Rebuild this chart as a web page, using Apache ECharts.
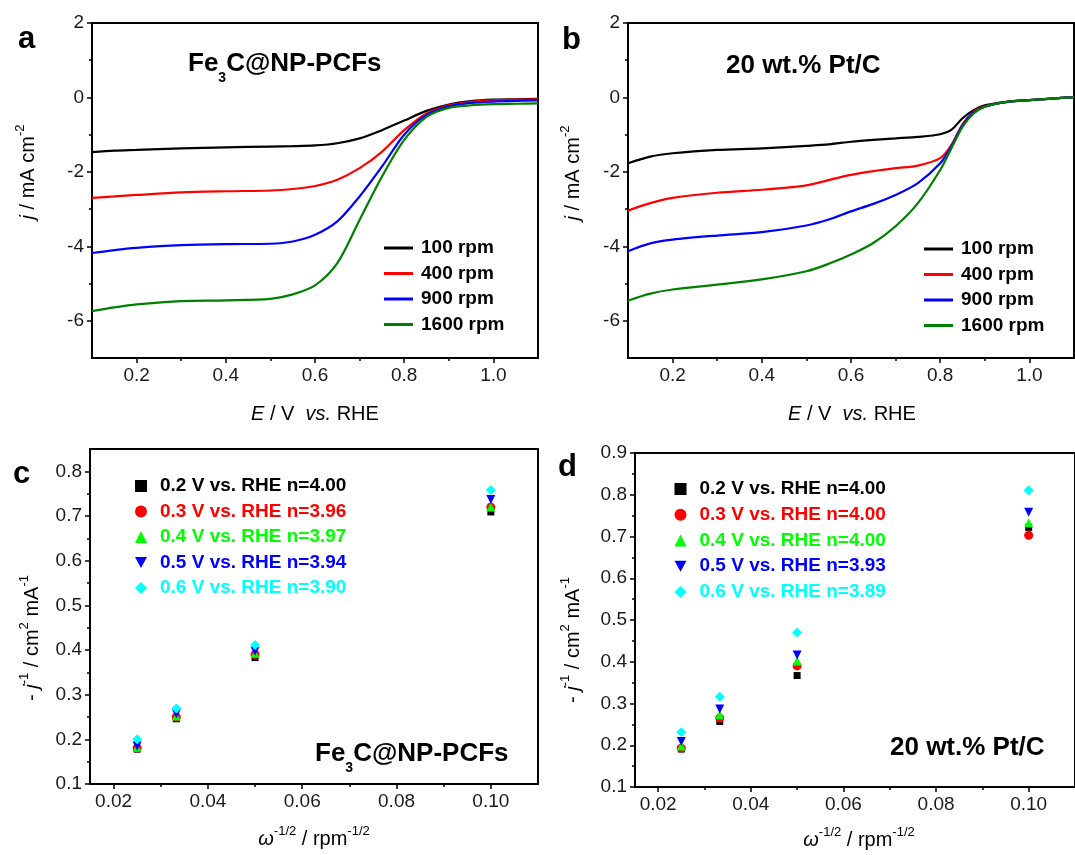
<!DOCTYPE html>
<html>
<head>
<meta charset="utf-8">
<script src="https://cdn.jsdelivr.net/npm/echarts@6/dist/echarts.min.js"></script>
<style>
  html, body { margin: 0; background: #fff; }
  #main { width: 1075px; height: 855px; }
</style>
</head>
<body>
<div id="main"></div>
<script>
const FONT = '"Liberation Sans", Arial, sans-serif';

// a: Fe3C@NP-PCFs, LSV at 4 rotation rates
const potentialA = [0.1, 0.15, 0.2, 0.3, 0.4, 0.5, 0.55, 0.6, 0.65, 0.7, 0.75, 0.8, 0.85, 0.9, 0.95, 1.0, 1.05, 1.1];
const fe100 = [-1.47, -1.43, -1.41, -1.37, -1.34, -1.32, -1.31, -1.29, -1.23, -1.10, -0.88, -0.62, -0.36, -0.19, -0.10, -0.06, -0.05, -0.04];
const fe400 = [-2.70, -2.66, -2.62, -2.55, -2.52, -2.50, -2.46, -2.38, -2.21, -1.90, -1.46, -0.88, -0.43, -0.21, -0.12, -0.08, -0.06, -0.05];
const fe900 = [-4.18, -4.10, -4.04, -3.97, -3.94, -3.93, -3.87, -3.69, -3.33, -2.66, -1.86, -1.00, -0.47, -0.24, -0.15, -0.11, -0.09, -0.08];
const fe1600 = [-5.74, -5.64, -5.56, -5.47, -5.45, -5.41, -5.29, -5.05, -4.45, -3.29, -2.13, -1.14, -0.52, -0.28, -0.21, -0.18, -0.17, -0.16];

// b: 20 wt.% Pt/C
const potentialB = [0.1, 0.15, 0.2, 0.3, 0.4, 0.5, 0.55, 0.6, 0.65, 0.7, 0.75, 0.8, 0.825, 0.85, 0.875, 0.9, 0.95, 1.0, 1.05, 1.1];
const pt100 = [-1.77, -1.59, -1.50, -1.41, -1.37, -1.30, -1.26, -1.19, -1.14, -1.10, -1.06, -0.99, -0.87, -0.56, -0.34, -0.21, -0.12, -0.07, -0.03, 0.01];
const pt400 = [-3.04, -2.84, -2.70, -2.56, -2.48, -2.36, -2.22, -2.08, -1.98, -1.90, -1.83, -1.63, -1.28, -0.72, -0.39, -0.24, -0.12, -0.07, -0.03, 0.01];
const pt900 = [-4.13, -3.92, -3.82, -3.71, -3.62, -3.44, -3.28, -3.06, -2.86, -2.62, -2.30, -1.77, -1.32, -0.75, -0.41, -0.25, -0.12, -0.07, -0.03, 0.01];
const pt1600 = [-5.46, -5.27, -5.16, -5.03, -4.89, -4.67, -4.47, -4.22, -3.91, -3.46, -2.84, -1.95, -1.37, -0.79, -0.43, -0.25, -0.12, -0.07, -0.03, 0.01];

const rpmNames = ['100 rpm', '400 rpm', '900 rpm', '1600 rpm'];
const rpmColors = ['#000000', '#ff0000', '#0000ff', '#008000'];

// c, d: K-L plots
const invSqrtRpm = [0.025, 0.0333, 0.05, 0.1];
const feKL02 = [0.178, 0.246, 0.383, 0.709];
const feKL03 = [0.181, 0.250, 0.390, 0.720];
const feKL04 = [0.182, 0.252, 0.393, 0.720];
const feKL05 = [0.185, 0.257, 0.397, 0.737];
const feKL06 = [0.200, 0.269, 0.411, 0.758];
const ptKL02 = [0.191, 0.257, 0.367, 0.722];
const ptKL03 = [0.193, 0.265, 0.390, 0.703];
const ptKL04 = [0.198, 0.273, 0.402, 0.733];
const ptKL05 = [0.209, 0.287, 0.416, 0.758];
const ptKL06 = [0.231, 0.316, 0.470, 0.811];
const feKLNames = ['0.2 V vs. RHE n=4.00', '0.3 V vs. RHE n=3.96', '0.4 V vs. RHE n=3.97', '0.5 V vs. RHE n=3.94', '0.6 V vs. RHE n=3.90'];
const ptKLNames = ['0.2 V vs. RHE n=4.00', '0.3 V vs. RHE n=4.00', '0.4 V vs. RHE n=4.00', '0.5 V vs. RHE n=3.93', '0.6 V vs. RHE n=3.89'];
const klColors = ['#000000', '#ff0000', '#00ff00', '#0000ff', '#00ffff'];
const klSymbols = ['rect', 'circle', 'triangle', 'path://M0,0L10,0L5,9Z', 'diamond'];
const klSizes = [7, 9, 9, 9, 10];

// tick values
const lsvTicksX = [0.2, 0.4, 0.6, 0.8, 1.0];
const lsvMinorX = [0.3, 0.5, 0.7, 0.9];
const lsvTicksY = [-6, -4, -2, 0, 2];
const lsvMinorY = [-5, -3, -1, 1];
const klTicksX = [0.02, 0.04, 0.06, 0.08, 0.10];
const klMinorX = [0.03, 0.05, 0.07, 0.09];
const klTicksYc = [0.1, 0.2, 0.3, 0.4, 0.5, 0.6, 0.7, 0.8];
const klMinorYc = [0.15, 0.25, 0.35, 0.45, 0.55, 0.65, 0.75];
const klTicksYd = [0.1, 0.2, 0.3, 0.4, 0.5, 0.6, 0.7, 0.8, 0.9];
const klMinorYd = [0.15, 0.25, 0.35, 0.45, 0.55, 0.65, 0.75, 0.85];

const chart = echarts.init(document.getElementById('main'));

// major axis + a second one only for the short minor ticks
function axisPair(dim, gridIndex, min, max, ticks, minor, digits) {
  const position = dim === 'x' ? 'bottom' : 'left';
  const tickStyle = { color: '#000', width: 1.5 };
  return [
    {
      type: 'value', gridIndex, position, min, max,
      splitLine: { show: false },
      axisLine: { show: true, onZero: false, lineStyle: { color: '#000', width: 2 } },
      axisTick: { show: true, length: 5, customValues: ticks, lineStyle: tickStyle },
      axisLabel: {
        customValues: ticks, formatter: v => v.toFixed(digits),
        color: '#1a1a1a', fontSize: 19, fontFamily: FONT, margin: 8,
      },
    },
    {
      type: 'value', gridIndex, position, min, max,
      splitLine: { show: false },
      axisLine: { show: false, onZero: false },
      axisLabel: { show: false },
      axisTick: { show: true, length: 3, customValues: minor, lineStyle: tickStyle },
    },
  ];
}

function lsvSeries(panel, name, color, E, j) {
  return {
    type: 'line', name, xAxisIndex: panel * 2, yAxisIndex: panel * 2,
    data: E.map((e, i) => [e, j[i]]),
    symbol: 'none', smooth: 0.3,
    lineStyle: { color, width: 2.2 }, itemStyle: { color },
  };
}

function klSeries(panel, k, name, values) {
  return {
    type: 'scatter', name, xAxisIndex: panel * 2, yAxisIndex: panel * 2,
    data: invSqrtRpm.map((x, i) => [x, values[i]]),
    symbol: klSymbols[k], symbolSize: klSizes[k],
    itemStyle: { color: klColors[k], opacity: 1 },
  };
}

// text made of runs (italic, sub/superscripts) laid out by measured width
const measureCtx = document.createElement('canvas').getContext('2d');
function runWidth(p) {
  measureCtx.font = (p.italic ? 'italic ' : '') + (p.bold ? 'bold ' : '') + p.size + 'px ' + FONT;
  return measureCtx.measureText(p.t).width;
}
function runs(parts, x, y, rotation, anchor) {
  let cursor = 0;
  const children = parts.map(p => {
    const el = {
      type: 'text', x: cursor, y: p.dy || 0,
      style: {
        text: p.t, fontSize: p.size, fontFamily: FONT,
        fontWeight: p.bold ? 'bold' : 'normal', fontStyle: p.italic ? 'italic' : 'normal',
        fill: p.color || '#000', align: 'left', verticalAlign: 'middle',
      },
    };
    cursor += runWidth(p);
    return el;
  });
  if (anchor === 'center') children.forEach(c => { c.x -= cursor / 2; });
  return { type: 'group', x, y, rotation: rotation || 0, silent: true, children };
}

const N = 20, S = 13, UP = -8;
const lsvXName = [
  { t: 'E', size: N, italic: true }, { t: ' / V  ', size: N },
  { t: 'vs.', size: N, italic: true }, { t: ' RHE', size: N },
];
const lsvYName = [
  { t: 'j', size: N, italic: true }, { t: ' / mA cm', size: N }, { t: '-2', size: S, dy: UP },
];
const klXName = [
  { t: 'ω', size: N, italic: true }, { t: '-1/2', size: S, dy: UP },
  { t: ' / rpm', size: N }, { t: '-1/2', size: S, dy: UP },
];
const klYName = [
  { t: '- ', size: N }, { t: 'j', size: N, italic: true }, { t: '-1', size: S, dy: UP },
  { t: ' / cm', size: N }, { t: '2', size: S, dy: UP }, { t: ' mA', size: N }, { t: '-1', size: S, dy: UP },
];
const feTitle = [
  { t: 'Fe', size: 26, bold: true }, { t: '3', size: 14, bold: true, dy: 14 },
  { t: 'C@NP-PCFs', size: 26, bold: true },
];
const ptTitle = [{ t: '20 wt.% Pt/C', size: 26, bold: true }];
const letter = t => [{ t, size: 31, bold: true }];

const legendBase = {
  orient: 'vertical', selectedMode: false, itemGap: 4.5,
  textStyle: { fontSize: 19, fontWeight: 'bold', fontFamily: FONT, color: '#000', lineHeight: 21 },
};

const grids = [
  { left: 92, top: 23, width: 446, height: 335 },
  { left: 628, top: 23, width: 446, height: 335 },
  { left: 90, top: 449, width: 448, height: 335 },
  { left: 635, top: 453, width: 447, height: 334 },
].map(g => Object.assign(g, { show: true, borderColor: '#000', borderWidth: 2, backgroundColor: 'transparent' }));

chart.setOption({
  backgroundColor: '#fff',
  animation: false,
  grid: grids,
  xAxis: [
    ...axisPair('x', 0, 0.1, 1.1, lsvTicksX, lsvMinorX, 1),
    ...axisPair('x', 1, 0.1, 1.1, lsvTicksX, lsvMinorX, 1),
    ...axisPair('x', 2, 0.015, 0.11, klTicksX, klMinorX, 2),
    ...axisPair('x', 3, 0.015, 0.11, klTicksX, klMinorX, 2),
  ],
  yAxis: [
    ...axisPair('y', 0, -7, 2, lsvTicksY, lsvMinorY, 0),
    ...axisPair('y', 1, -7, 2, lsvTicksY, lsvMinorY, 0),
    ...axisPair('y', 2, 0.1, 0.85, klTicksYc, klMinorYc, 1),
    ...axisPair('y', 3, 0.1, 0.9, klTicksYd, klMinorYd, 1),
  ],
  legend: [
    Object.assign({}, legendBase, {
      left: 379, top: 232.5, icon: 'rect', itemWidth: 29, itemHeight: 3,
      textStyle: Object.assign({}, legendBase.textStyle, { padding: [0, 0, 0, 3] }),
      data: rpmNames,
    }),
    Object.assign({}, legendBase, {
      left: 919, top: 233.5, icon: 'rect', itemWidth: 29, itemHeight: 3,
      textStyle: Object.assign({}, legendBase.textStyle, { padding: [0, 0, 0, 3] }),
      data: rpmNames,
    }),
    Object.assign({}, legendBase, {
      left: 130, top: 470.5, itemWidth: 12, itemHeight: 12,
      textStyle: Object.assign({}, legendBase.textStyle, { padding: [0, 0, 0, 8] }),
      data: feKLNames.map((name, k) => ({ name, textStyle: { color: klColors[k] } })),
    }),
    Object.assign({}, legendBase, {
      left: 669.5, top: 473.5, itemGap: 4.75, itemWidth: 12, itemHeight: 12,
      textStyle: Object.assign({}, legendBase.textStyle, { padding: [0, 0, 0, 8] }),
      data: ptKLNames.map((name, k) => ({ name, textStyle: { color: klColors[k] } })),
    }),
  ],
  graphic: [
    runs(letter('a'), 18, 39),
    runs(letter('b'), 562, 40),
    runs(letter('c'), 13, 474),
    runs(letter('d'), 558, 467),
    runs(feTitle, 188, 64),
    runs(ptTitle, 726, 66),
    runs(feTitle, 315, 754),
    runs(ptTitle, 890, 748),
    runs(lsvXName, 315, 414, 0, 'center'),
    runs(lsvXName, 852, 414, 0, 'center'),
    runs(lsvYName, 28, 172, Math.PI / 2, 'center'),
    runs(lsvYName, 573, 173, Math.PI / 2, 'center'),
    runs(klXName, 314, 839, 0, 'center'),
    runs(klXName, 859, 840, 0, 'center'),
    runs(klYName, 32, 638, Math.PI / 2, 'center'),
    runs(klYName, 573, 640, Math.PI / 2, 'center'),
  ],
  series: [
    lsvSeries(0, rpmNames[0], rpmColors[0], potentialA, fe100),
    lsvSeries(0, rpmNames[1], rpmColors[1], potentialA, fe400),
    lsvSeries(0, rpmNames[2], rpmColors[2], potentialA, fe900),
    lsvSeries(0, rpmNames[3], rpmColors[3], potentialA, fe1600),
    lsvSeries(1, rpmNames[0], rpmColors[0], potentialB, pt100),
    lsvSeries(1, rpmNames[1], rpmColors[1], potentialB, pt400),
    lsvSeries(1, rpmNames[2], rpmColors[2], potentialB, pt900),
    lsvSeries(1, rpmNames[3], rpmColors[3], potentialB, pt1600),
    klSeries(2, 0, feKLNames[0], feKL02),
    klSeries(2, 1, feKLNames[1], feKL03),
    klSeries(2, 2, feKLNames[2], feKL04),
    klSeries(2, 3, feKLNames[3], feKL05),
    klSeries(2, 4, feKLNames[4], feKL06),
    klSeries(3, 0, ptKLNames[0], ptKL02),
    klSeries(3, 1, ptKLNames[1], ptKL03),
    klSeries(3, 2, ptKLNames[2], ptKL04),
    klSeries(3, 3, ptKLNames[3], ptKL05),
    klSeries(3, 4, ptKLNames[4], ptKL06),
  ],
});
</script>
</body>
</html>
